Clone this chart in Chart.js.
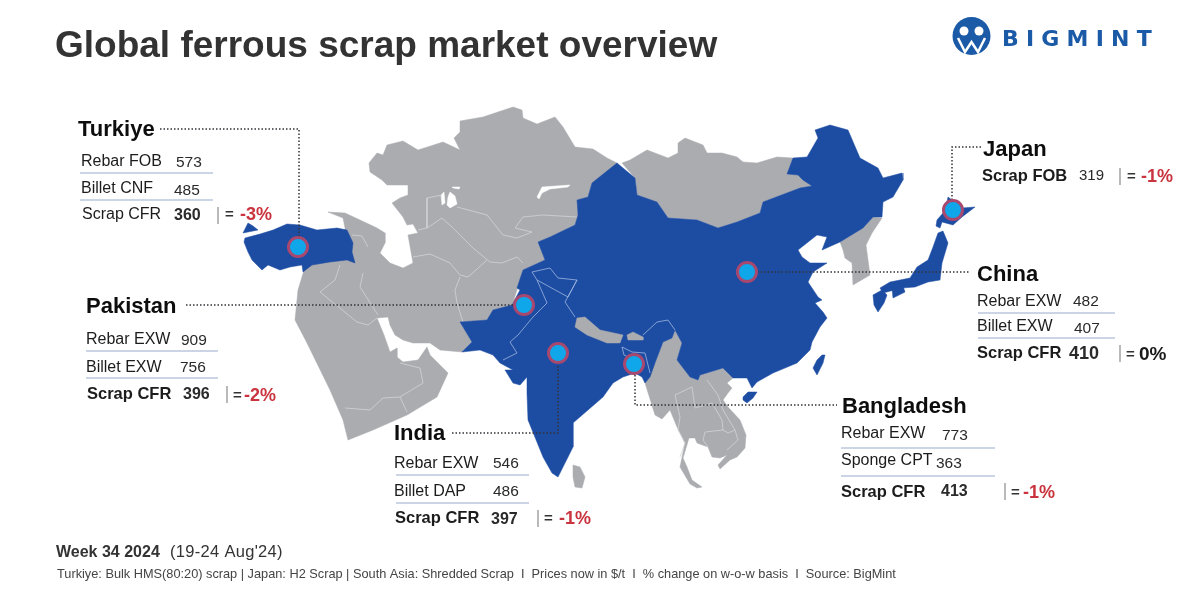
<!DOCTYPE html>
<html>
<head>
<meta charset="utf-8">
<title>Global ferrous scrap market overview</title>
<script src="https://cdn.jsdelivr.net/npm/chart.js@4"></script>
<style>
  html, body { margin: 0; padding: 0; background: #fff; }
  canvas { display: block; }
</style>
</head>
<body>
<canvas id="myChart" width="1200" height="600"></canvas>
<script>
// ---- prices
const turkiyeProducts = ['Rebar FOB', 'Billet CNF', 'Scrap CFR'];
const turkiyePrices = [573, 485, 360];
const pakistanProducts = ['Rebar EXW', 'Billet EXW', 'Scrap CFR'];
const pakistanPrices = [909, 756, 396];
const indiaProducts = ['Rebar EXW', 'Billet DAP', 'Scrap CFR'];
const indiaPrices = [546, 486, 397];
const bangladeshProducts = ['Rebar EXW', 'Sponge CPT', 'Scrap CFR'];
const bangladeshPrices = [773, 363, 413];
const chinaProducts = ['Rebar EXW', 'Billet EXW', 'Scrap CFR'];
const chinaPrices = [482, 407, 410];
const japanProducts = ['Scrap FOB'];
const japanPrices = [319];
const weeklyChange = { Turkiye: '-3%', Pakistan: '-2%', India: '-1%', Bangladesh: '-1%', China: '0%', Japan: '-1%' };

// ---- map outlines, in map units (the axes run 0-1200 and 0-600)
const westAsia = [[369,163],[377,153],[383,155],[387,145],[403,141],[418,150],[443,142],[460,150],[454,138],[460,132],[460,121],[483,117],[513,107],[522,110],[523,118],[537,124],[555,117],[563,127],[575,147],[593,149],[607,158],[617,163],[625,175],[592,183],[588,197],[577,200],[578,215],[575,225],[550,237],[538,242],[545,260],[523,270],[517,290],[512,305],[493,310],[487,320],[460,322],[472,342],[462,352],[440,350],[430,343],[413,343],[403,340],[395,335],[390,325],[388,317],[377,318],[384,335],[390,352],[397,348],[397,357],[403,362],[418,360],[427,347],[430,355],[448,373],[437,397],[407,415],[373,430],[348,440],[343,420],[330,390],[307,343],[295,320],[298,290],[305,267],[345,240],[345,228],[343,218],[328,212],[345,213],[360,220],[377,228],[385,233],[385,243],[380,253],[390,263],[403,268],[413,263],[408,235],[418,233],[413,224],[407,225],[403,217],[392,203],[400,198],[408,195],[408,185],[387,185],[382,180],[370,172]];
const mongolia = [[622,163],[630,160],[647,150],[668,158],[678,153],[678,143],[685,138],[703,145],[707,153],[722,153],[737,157],[743,162],[757,163],[777,157],[793,158],[787,174],[798,175],[812,186],[800,188],[763,202],[760,213],[737,222],[718,228],[697,220],[668,218],[657,202],[637,195],[635,178]];
const korea = [[873,217],[882,218],[872,233],[866,245],[870,275],[853,285],[852,263],[845,258],[843,250],[840,242],[863,228]];
const seAsia = [[675,330],[682,343],[677,360],[690,377],[698,380],[700,375],[723,368],[733,378],[727,383],[732,388],[728,393],[723,400],[728,407],[740,420],[746,435],[745,448],[737,457],[730,460],[720,469],[718,465],[727,455],[720,458],[712,457],[708,447],[697,443],[695,438],[689,438],[683,458],[687,467],[692,480],[702,487],[697,488],[690,484],[680,467],[685,443],[677,427],[670,410],[662,419],[655,415],[645,383],[650,370],[655,363],[663,342],[672,338]];
const sriLanka = [[573,465],[580,467],[585,477],[582,488],[575,487],[573,477]];
const nepal = [[577,318],[585,317],[600,330],[623,335],[620,343],[607,343],[587,335],[575,327]];
const bhutan = [[627,335],[633,332],[643,337],[643,340],[628,340]];
const chinaSouthAsia = [[617,163],[635,178],[637,195],[657,202],[668,218],[697,220],[718,228],[737,222],[760,213],[763,202],[800,188],[812,186],[803,180],[798,175],[787,174],[793,158],[807,157],[818,138],[815,130],[830,125],[848,130],[860,158],[878,168],[883,178],[902,173],[903,180],[893,197],[883,202],[882,217],[873,217],[863,228],[840,242],[822,250],[827,237],[817,235],[798,250],[802,257],[810,263],[827,263],[813,272],[808,282],[818,297],[822,300],[815,303],[823,312],[827,318],[820,327],[812,342],[810,350],[797,363],[773,373],[757,382],[752,388],[747,378],[733,378],[723,368],[700,375],[698,380],[690,377],[677,360],[682,343],[675,330],[672,338],[663,342],[655,363],[650,377],[645,383],[642,377],[635,373],[623,377],[613,383],[603,397],[573,423],[573,447],[558,477],[552,473],[543,457],[528,420],[527,393],[527,377],[520,385],[513,383],[505,370],[513,370],[500,363],[493,355],[480,350],[462,352],[472,342],[460,322],[487,320],[493,310],[512,305],[520,290],[517,288],[523,270],[545,260],[538,242],[550,237],[575,225],[578,215],[577,200],[588,197],[592,183]];
const turkeyAsia = [[245,238],[260,234],[273,230],[287,224],[300,225],[317,230],[337,228],[347,230],[353,243],[352,252],[355,263],[347,260],[330,262],[312,265],[303,272],[302,265],[290,267],[280,270],[268,265],[262,270],[252,260],[248,252],[244,242]];
const turkeyEurope = [[243,233],[248,223],[253,226],[258,230],[248,232]];
const honshu = [[938,233],[943,231],[948,243],[942,263],[940,280],[928,282],[915,287],[902,288],[883,293],[880,288],[890,282],[910,278],[917,267],[928,260],[933,247]];
const hokkaido = [[937,220],[936,226],[940,228],[942,222],[953,225],[962,217],[975,207],[962,208],[952,200],[948,197],[947,202],[943,213]];
const shikoku = [[892,288],[903,286],[905,292],[893,298]];
const kyushu = [[873,295],[882,290],[887,295],[884,303],[878,312],[874,305]];
const taiwan = [[822,355],[825,355],[823,363],[817,375],[813,368],[817,360]];
const hainan = [[743,397],[748,392],[757,392],[753,398],[747,403],[743,400]];
const aralWest = [[441,195],[444,192],[445,203],[442,205]];
const aralEast = [[450,192],[455,196],[457,204],[450,208],[447,205],[448,197]];
const aralNorth = [[452,187],[460,187],[459,189],[453,188]];
const balkhash = [[537,197],[542,187],[570,185],[568,187],[550,189],[542,193],[539,199]];

const greyBorders = [
  [[427,198],[427,228]], [[427,198],[442,195]], [[457,207],[487,215],[503,235]],
  [[515,228],[523,217],[543,215],[577,217]], [[515,228],[532,232],[517,238],[503,235]],
  [[418,230],[427,228],[442,218],[453,228],[473,248],[490,262],[502,263],[517,257],[523,263]],
  [[413,257],[430,254],[450,263],[460,275],[468,277],[487,260]],
  [[460,277],[455,290],[457,303],[463,322]], [[363,273],[360,287],[378,315]],
  [[320,292],[357,322],[368,325],[377,318]], [[320,292],[335,280],[340,265]],
  [[345,408],[370,410],[383,398],[400,397],[423,383],[420,368],[400,363]], [[400,397],[407,412]],
  [[352,235],[362,236],[368,247]], [[675,395],[692,387],[695,408],[712,403],[722,420],[723,430],[705,432],[703,440],[708,447]],
  [[675,395],[680,417],[678,430],[685,443],[680,457]], [[707,380],[718,395],[723,410],[735,430],[738,440],[727,450]],
  [[723,430],[728,433],[735,430]]
];
const blueBorders = [
  [[532,272],[550,268],[558,278],[577,280],[568,297],[537,280],[532,272]],
  [[537,280],[547,303],[533,317],[518,335],[510,342],[517,353],[503,360]],
  [[577,280],[565,302],[575,317]], [[643,335],[657,322],[668,320],[675,330]],
  [[622,347],[632,352],[645,353],[650,373]], [[622,347],[624,355],[630,358]]
];

// ---- markets and their leader lines
const marketPoints = [[298,247],[953,210],[747,272],[524,305],[558,353],[634,364]];
const leaderLines = [
  [[160,129],[299,129],[299,237]], [[981,147],[952,147],[952,200]], [[757,272],[970,272]],
  [[186,305],[514,305]], [[452,433],[558,433],[558,364]], [[635,375],[635,405],[837,405]]
];

// ---- footer and title
const titleText = 'Global ferrous scrap market overview';
const weekText = 'Week 34 2024';
const datesText = "(19-24 Aug'24)";
const noteText = 'Turkiye: Bulk HMS(80:20) scrap | Japan: H2 Scrap | South Asia: Shredded Scrap  I  Prices now in $/t  I  % change on w-o-w basis  I  Source: BigMint';

const BLUE = '#1d4ca3', GREY = '#abacb0', RED = '#c9343f', INK = '#1c1c1c';
const FONT = '"Liberation Sans", Arial, sans-serif';

const pts = arr => arr.map(p => ({ x: p[0], y: p[1] }));
const shape = (arr, color) => ({
  data: pts(arr.concat([arr[0]])), showLine: true, fill: 'shape', backgroundColor: color,
  borderColor: color, borderWidth: 0.5, pointRadius: 0, tension: 0, clip: false
});
const stroke = (arr, color, width, dash) => ({
  data: pts(arr), showLine: true, fill: false, borderColor: color, borderWidth: width,
  borderDash: dash || [], pointRadius: 0, tension: 0, clip: false
});

// bottom to top; chart.js paints the first dataset last, so this gets reversed
const layers = [
  shape(westAsia, GREY), shape(mongolia, GREY), shape(korea, GREY), shape(seAsia, GREY), shape(sriLanka, GREY),
  shape(aralWest, '#fff'), shape(aralEast, '#fff'), shape(aralNorth, '#fff'), shape(balkhash, '#fff'),
  ...greyBorders.map(b => stroke(b, '#d2d3d6', 0.8)),
  shape(chinaSouthAsia, BLUE), shape(turkeyAsia, BLUE), shape(turkeyEurope, BLUE), shape(honshu, BLUE),
  shape(hokkaido, BLUE), shape(shikoku, BLUE), shape(kyushu, BLUE), shape(taiwan, BLUE), shape(hainan, BLUE),
  shape(nepal, GREY), shape(bhutan, GREY),
  ...blueBorders.map(b => stroke(b, '#9fb6e0', 0.8)),
  ...leaderLines.map(l => stroke(l, '#333338', 1.5, [1.5, 2])),
  { data: pts(marketPoints), showLine: false, pointRadius: 9.5, pointHoverRadius: 9.5, pointBackgroundColor: '#0fa6ea',
    pointBorderColor: '#a8486f', pointBorderWidth: 3, clip: false }
];

// where each text block sits on the page
const blocks = [
  { name: 'Turkiye', products: turkiyeProducts, prices: turkiyePrices, nameX: 78, nameY: 130, lastBold: false, lastSize: 16, lastVal: 16,
    rowX: [81, 81, 82], rowY: [162, 189, 215], valX: [176, 174, 174], valY: [163, 191, 216], rules: [173, 200], ruleX: [80, 213],
    barX: 218, barY: 215, eqX: 225, pctX: 240, pctY: 215 },
  { name: 'Pakistan', products: pakistanProducts, prices: pakistanPrices, nameX: 86, nameY: 307, lastBold: true, lastSize: 16.5, lastVal: 16,
    rowX: [86, 86, 87], rowY: [340, 368, 394], valX: [181, 180, 183], valY: [341, 368, 395], rules: [351, 378], ruleX: [86, 218],
    barX: 227, barY: 394, eqX: 233, pctX: 244, pctY: 396 },
  { name: 'India', products: indiaProducts, prices: indiaPrices, nameX: 394, nameY: 434, lastBold: true, lastSize: 16.5, lastVal: 16,
    rowX: [394, 394, 395], rowY: [464, 492, 518], valX: [493, 493, 491], valY: [464, 492, 520], rules: [475, 503], ruleX: [396, 529],
    barX: 538, barY: 518, eqX: 544, pctX: 559, pctY: 519 },
  { name: 'Bangladesh', products: bangladeshProducts, prices: bangladeshPrices, nameX: 842, nameY: 407, lastBold: true, lastSize: 16.5, lastVal: 16,
    rowX: [841, 841, 841], rowY: [434, 461, 492], valX: [942, 936, 941], valY: [436, 464, 492], rules: [448, 476], ruleX: [841, 995],
    barX: 1005, barY: 491, eqX: 1011, pctX: 1023, pctY: 493 },
  { name: 'China', products: chinaProducts, prices: chinaPrices, nameX: 977, nameY: 275, lastBold: true, lastSize: 16.5, lastVal: 18,
    rowX: [977, 977, 977], rowY: [302, 327, 353], valX: [1073, 1074, 1069], valY: [302, 329, 354], rules: [313, 338], ruleX: [978, 1115],
    barX: 1120, barY: 353, eqX: 1126, pctX: 1139, pctY: 355 },
  { name: 'Japan', products: japanProducts, prices: japanPrices, nameX: 983, nameY: 150, lastBold: true, lastSize: 16.5, lastVal: 15, lastValRegular: true,
    rowX: [982], rowY: [176], valX: [1079], valY: [176], rules: [], ruleX: [0, 0],
    barX: 1120, barY: 176, eqX: 1127, pctX: 1141, pctY: 177 }
];

const textPlugin = {
  id: 'pageText',
  afterDraw(chart) {
    const ctx = chart.ctx;
    const text = (s, x, y, font, color) => {
      ctx.font = font; ctx.fillStyle = color; ctx.fillText(s, x, y);
    };
    ctx.save();
    ctx.textBaseline = 'middle';
    ctx.textAlign = 'left';

    text(titleText, 55, 47, 'bold 37px ' + FONT, '#333333');

    blocks.forEach(b => {
      text(b.name, b.nameX, b.nameY, 'bold 22px ' + FONT, '#0d0d0d');
      const last = b.products.length - 1;
      b.products.forEach((p, i) => {
        const isLast = i === last;
        const labelFont = isLast ? (b.lastBold ? 'bold ' : '') + b.lastSize + 'px ' : '16px ';
        const valFont = isLast ? (b.lastValRegular ? '' : 'bold ') + b.lastVal + 'px ' : '15.5px ';
        text(p, b.rowX[i], b.rowY[i], labelFont + FONT, INK);
        text(String(b.prices[i]), b.valX[i], b.valY[i], valFont + FONT, '#2a2a2a');
      });
      ctx.strokeStyle = '#9aaccb';
      ctx.lineWidth = 1.2;
      b.rules.forEach(y => {
        ctx.beginPath(); ctx.moveTo(b.ruleX[0], y); ctx.lineTo(b.ruleX[1], y); ctx.stroke();
      });
      ctx.strokeStyle = '#8a8a8a';
      ctx.beginPath(); ctx.moveTo(b.barX, b.barY - 8); ctx.lineTo(b.barX, b.barY + 9); ctx.stroke();
      const pct = weeklyChange[b.name];
      text('=', b.eqX, b.pctY, 'bold 15px ' + FONT, '#333');
      text(pct, b.pctX, b.pctY, 'bold ' + (pct === '0%' ? 19 : 18) + 'px ' + FONT, pct === '0%' ? '#1a1a1a' : RED);
    });

    text(weekText, 56, 553, 'bold 16px ' + FONT, '#333333');
    ctx.letterSpacing = '0.3px';
    text(datesText, 170, 552, '16.5px ' + FONT, '#333333');
    ctx.letterSpacing = '0px';
    text(noteText, 57, 574, '12.75px ' + FONT, '#444444');

    // logo
    ctx.fillStyle = '#1b5aa6';
    ctx.beginPath(); ctx.arc(971.5, 36, 19, 0, Math.PI * 2); ctx.fill();
    ctx.fillStyle = '#fff';
    [964, 979].forEach(x => { ctx.beginPath(); ctx.arc(x, 31, 4.5, 0, Math.PI * 2); ctx.fill(); });
    ctx.strokeStyle = '#fff';
    ctx.lineWidth = 2.5;
    ctx.beginPath();
    ctx.moveTo(958, 38); ctx.lineTo(965, 52); ctx.lineTo(971.5, 42); ctx.lineTo(978, 52); ctx.lineTo(985, 38);
    ctx.stroke();
    ctx.letterSpacing = '7.2px';
    text('BIGMINT', 1002, 40, 'bold 22px "DejaVu Sans", ' + FONT, '#1b5aa6');
    ctx.letterSpacing = '0px';
    ctx.restore();
  }
};

new Chart(document.getElementById('myChart').getContext('2d'), {
  type: 'scatter',
  data: { datasets: layers.slice().reverse() },
  options: {
    responsive: false,
    animation: false,
    layout: { padding: 0, autoPadding: false },
    plugins: { legend: { display: false }, tooltip: { enabled: false } },
    scales: {
      x: { type: 'linear', min: 0, max: 1200, display: false },
      y: { type: 'linear', min: 0, max: 600, reverse: true, display: false }
    }
  },
  plugins: [textPlugin]
});
</script>
</body>
</html>
